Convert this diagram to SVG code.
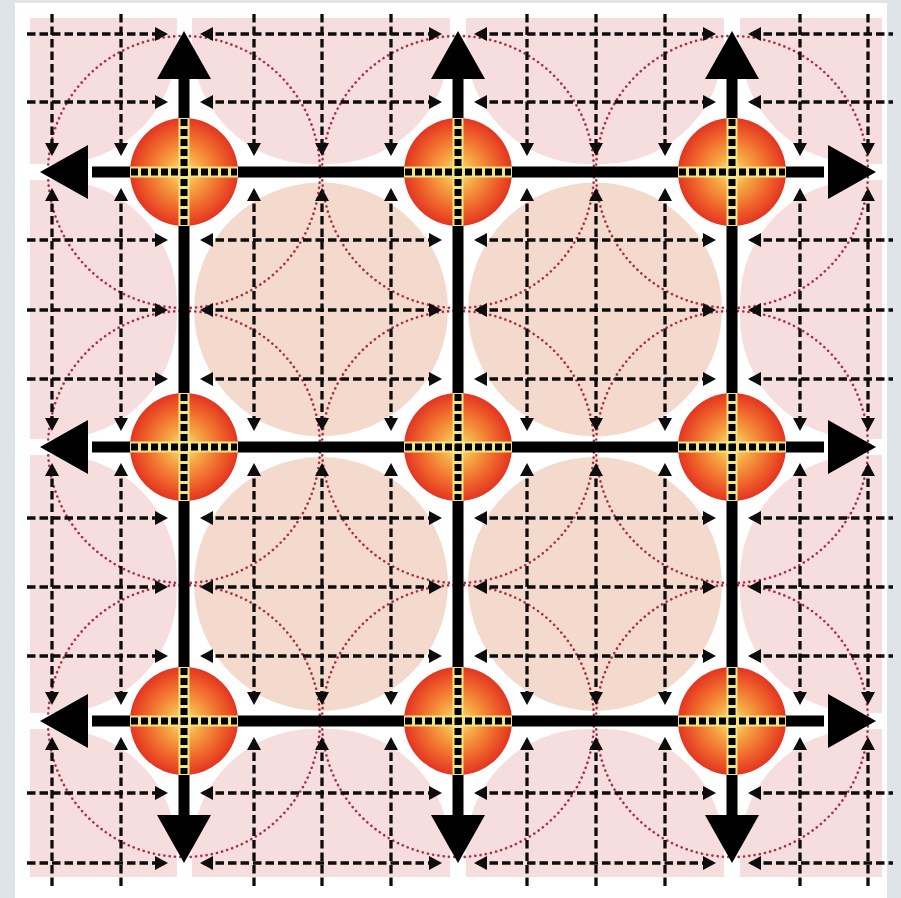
<svg xmlns="http://www.w3.org/2000/svg" width="901" height="898" viewBox="0 0 901 898">
<defs>
<style>
.outer{fill:#f6dedf}
.inner{fill:#f4dacd}
.dot{fill:none;stroke:#a8304a;stroke-width:2.6;stroke-dasharray:0.1 5.2;stroke-linecap:round}
.dash{fill:none;stroke:#0d0d0d;stroke-width:3.3;stroke-dasharray:8.5 4}
.main{fill:none;stroke:#000;stroke-width:11}
.head{fill:#000}
.ball{fill:url(#ballGrad)}
.ystrip{stroke:#f2e47e;stroke-width:11}
.bstrip{stroke:#000;stroke-width:7;stroke-dasharray:7 3}
</style>
<radialGradient id="ballGrad" cx="0.5" cy="0.5" r="0.5">
<stop offset="0" stop-color="#fbe58e"/>
<stop offset="0.3" stop-color="#f7aa46"/>
<stop offset="0.7" stop-color="#ef652b"/>
<stop offset="1" stop-color="#e33521"/>
</radialGradient>
<marker id="ah" viewBox="0 0 13 14" refX="10" refY="7" markerWidth="13" markerHeight="14" markerUnits="userSpaceOnUse" orient="auto-start-reverse">
<path d="M0,0 L13,7 L0,14 z" fill="#0d0d0d"/>
</marker>
<clipPath id="panelClip"><rect x="30" y="18" width="852" height="859"/></clipPath>
</defs>

<rect x="0" y="0" width="901" height="898" fill="#dee4e9"/>
<rect x="15" y="3" width="872" height="895" fill="#ffffff"/>

<g id="cells" clip-path="url(#panelClip)">
<rect class="outer" x="-200" y="-200" width="377" height="364" rx="122"/>
<rect class="outer" x="192" y="-200" width="258" height="364" rx="122"/>
<rect class="outer" x="466" y="-200" width="258" height="364" rx="122"/>
<rect class="outer" x="740" y="-200" width="360" height="364" rx="122"/>
<rect class="outer" x="-200" y="180" width="377" height="259" rx="122"/>
<rect class="outer" x="740" y="180" width="360" height="259" rx="122"/>
<rect class="outer" x="-200" y="455" width="377" height="258" rx="122"/>
<rect class="outer" x="740" y="455" width="360" height="258" rx="122"/>
<rect class="outer" x="-200" y="729" width="377" height="400" rx="122"/>
<rect class="outer" x="192" y="729" width="258" height="400" rx="122"/>
<rect class="outer" x="466" y="729" width="258" height="400" rx="122"/>
<rect class="outer" x="740" y="729" width="360" height="400" rx="122"/>
<circle class="inner" cx="321" cy="309.5" r="127"/>
<circle class="inner" cx="595" cy="309.5" r="127"/>
<circle class="inner" cx="321" cy="584" r="127"/>
<circle class="inner" cx="595" cy="584" r="127"/>
</g>

<g id="ranges">
<circle class="dot" cx="184" cy="172" r="136"/>
<circle class="dot" cx="458" cy="172" r="136"/>
<circle class="dot" cx="732" cy="172" r="136"/>
<circle class="dot" cx="184" cy="447" r="136"/>
<circle class="dot" cx="458" cy="447" r="136"/>
<circle class="dot" cx="732" cy="447" r="136"/>
<circle class="dot" cx="184" cy="721" r="136"/>
<circle class="dot" cx="458" cy="721" r="136"/>
<circle class="dot" cx="732" cy="721" r="136"/>
</g>

<g id="connectors">
<g id="grid-vertical">
<path class="dash" d="M52 14V153" marker-end="url(#ah)"/>
<path class="dash" d="M52 191V428" marker-start="url(#ah)" marker-end="url(#ah)"/>
<path class="dash" d="M52 466V702" marker-start="url(#ah)" marker-end="url(#ah)"/>
<path class="dash" d="M52 740V886" marker-start="url(#ah)"/>
<path class="dash" d="M121 14V153" marker-end="url(#ah)"/>
<path class="dash" d="M121 191V428" marker-start="url(#ah)" marker-end="url(#ah)"/>
<path class="dash" d="M121 466V702" marker-start="url(#ah)" marker-end="url(#ah)"/>
<path class="dash" d="M121 740V886" marker-start="url(#ah)"/>
<path class="dash" d="M254 14V153" marker-end="url(#ah)"/>
<path class="dash" d="M254 191V428" marker-start="url(#ah)" marker-end="url(#ah)"/>
<path class="dash" d="M254 466V702" marker-start="url(#ah)" marker-end="url(#ah)"/>
<path class="dash" d="M254 740V886" marker-start="url(#ah)"/>
<path class="dash" d="M322 14V153" marker-end="url(#ah)"/>
<path class="dash" d="M322 191V428" marker-start="url(#ah)" marker-end="url(#ah)"/>
<path class="dash" d="M322 466V702" marker-start="url(#ah)" marker-end="url(#ah)"/>
<path class="dash" d="M322 740V886" marker-start="url(#ah)"/>
<path class="dash" d="M391 14V153" marker-end="url(#ah)"/>
<path class="dash" d="M391 191V428" marker-start="url(#ah)" marker-end="url(#ah)"/>
<path class="dash" d="M391 466V702" marker-start="url(#ah)" marker-end="url(#ah)"/>
<path class="dash" d="M391 740V886" marker-start="url(#ah)"/>
<path class="dash" d="M527 14V153" marker-end="url(#ah)"/>
<path class="dash" d="M527 191V428" marker-start="url(#ah)" marker-end="url(#ah)"/>
<path class="dash" d="M527 466V702" marker-start="url(#ah)" marker-end="url(#ah)"/>
<path class="dash" d="M527 740V886" marker-start="url(#ah)"/>
<path class="dash" d="M596 14V153" marker-end="url(#ah)"/>
<path class="dash" d="M596 191V428" marker-start="url(#ah)" marker-end="url(#ah)"/>
<path class="dash" d="M596 466V702" marker-start="url(#ah)" marker-end="url(#ah)"/>
<path class="dash" d="M596 740V886" marker-start="url(#ah)"/>
<path class="dash" d="M665 14V153" marker-end="url(#ah)"/>
<path class="dash" d="M665 191V428" marker-start="url(#ah)" marker-end="url(#ah)"/>
<path class="dash" d="M665 466V702" marker-start="url(#ah)" marker-end="url(#ah)"/>
<path class="dash" d="M665 740V886" marker-start="url(#ah)"/>
<path class="dash" d="M800 14V153" marker-end="url(#ah)"/>
<path class="dash" d="M800 191V428" marker-start="url(#ah)" marker-end="url(#ah)"/>
<path class="dash" d="M800 466V702" marker-start="url(#ah)" marker-end="url(#ah)"/>
<path class="dash" d="M800 740V886" marker-start="url(#ah)"/>
<path class="dash" d="M868 14V153" marker-end="url(#ah)"/>
<path class="dash" d="M868 191V428" marker-start="url(#ah)" marker-end="url(#ah)"/>
<path class="dash" d="M868 466V702" marker-start="url(#ah)" marker-end="url(#ah)"/>
<path class="dash" d="M868 740V886" marker-start="url(#ah)"/>
</g>
<g id="grid-horizontal">
<path class="dash" d="M27 34H165" marker-end="url(#ah)"/>
<path class="dash" d="M203 34H439" marker-start="url(#ah)" marker-end="url(#ah)"/>
<path class="dash" d="M477 34H713" marker-start="url(#ah)" marker-end="url(#ah)"/>
<path class="dash" d="M751 34H893" marker-start="url(#ah)"/>
<path class="dash" d="M27 102H165" marker-end="url(#ah)"/>
<path class="dash" d="M203 102H439" marker-start="url(#ah)" marker-end="url(#ah)"/>
<path class="dash" d="M477 102H713" marker-start="url(#ah)" marker-end="url(#ah)"/>
<path class="dash" d="M751 102H893" marker-start="url(#ah)"/>
<path class="dash" d="M27 240H165" marker-end="url(#ah)"/>
<path class="dash" d="M203 240H439" marker-start="url(#ah)" marker-end="url(#ah)"/>
<path class="dash" d="M477 240H713" marker-start="url(#ah)" marker-end="url(#ah)"/>
<path class="dash" d="M751 240H893" marker-start="url(#ah)"/>
<path class="dash" d="M27 310H165" marker-end="url(#ah)"/>
<path class="dash" d="M203 310H439" marker-start="url(#ah)" marker-end="url(#ah)"/>
<path class="dash" d="M477 310H713" marker-start="url(#ah)" marker-end="url(#ah)"/>
<path class="dash" d="M751 310H893" marker-start="url(#ah)"/>
<path class="dash" d="M27 379H165" marker-end="url(#ah)"/>
<path class="dash" d="M203 379H439" marker-start="url(#ah)" marker-end="url(#ah)"/>
<path class="dash" d="M477 379H713" marker-start="url(#ah)" marker-end="url(#ah)"/>
<path class="dash" d="M751 379H893" marker-start="url(#ah)"/>
<path class="dash" d="M27 518H165" marker-end="url(#ah)"/>
<path class="dash" d="M203 518H439" marker-start="url(#ah)" marker-end="url(#ah)"/>
<path class="dash" d="M477 518H713" marker-start="url(#ah)" marker-end="url(#ah)"/>
<path class="dash" d="M751 518H893" marker-start="url(#ah)"/>
<path class="dash" d="M27 587H165" marker-end="url(#ah)"/>
<path class="dash" d="M203 587H439" marker-start="url(#ah)" marker-end="url(#ah)"/>
<path class="dash" d="M477 587H713" marker-start="url(#ah)" marker-end="url(#ah)"/>
<path class="dash" d="M751 587H893" marker-start="url(#ah)"/>
<path class="dash" d="M27 656H165" marker-end="url(#ah)"/>
<path class="dash" d="M203 656H439" marker-start="url(#ah)" marker-end="url(#ah)"/>
<path class="dash" d="M477 656H713" marker-start="url(#ah)" marker-end="url(#ah)"/>
<path class="dash" d="M751 656H893" marker-start="url(#ah)"/>
<path class="dash" d="M27 793H165" marker-end="url(#ah)"/>
<path class="dash" d="M203 793H439" marker-start="url(#ah)" marker-end="url(#ah)"/>
<path class="dash" d="M477 793H713" marker-start="url(#ah)" marker-end="url(#ah)"/>
<path class="dash" d="M751 793H893" marker-start="url(#ah)"/>
<path class="dash" d="M27 863H165" marker-end="url(#ah)"/>
<path class="dash" d="M203 863H439" marker-start="url(#ah)" marker-end="url(#ah)"/>
<path class="dash" d="M477 863H713" marker-start="url(#ah)" marker-end="url(#ah)"/>
<path class="dash" d="M751 863H893" marker-start="url(#ah)"/>
</g>
<g id="links">
<path class="main" d="M184 172H732"/>
<path class="main" d="M184 447H732"/>
<path class="main" d="M184 721H732"/>
<path class="main" d="M184 172V721"/>
<path class="main" d="M458 172V721"/>
<path class="main" d="M732 172V721"/>
</g>
<g id="out-arrows">
<path class="main" d="M184 172V75"/><polygon class="head" points="184,31 157,79 211,79"/>
<path class="main" d="M458 172V75"/><polygon class="head" points="458,31 431,79 485,79"/>
<path class="main" d="M732 172V75"/><polygon class="head" points="732,31 705,79 759,79"/>
<path class="main" d="M184 172H92"/><polygon class="head" points="40,172 88,145 88,199"/>
<path class="main" d="M184 447H92"/><polygon class="head" points="40,447 88,420 88,474"/>
<path class="main" d="M184 721H92"/><polygon class="head" points="40,721 88,694 88,748"/>
<path class="main" d="M732 172H824"/><polygon class="head" points="876,172 828,145 828,199"/>
<path class="main" d="M732 447H824"/><polygon class="head" points="876,447 828,420 828,474"/>
<path class="main" d="M732 721H824"/><polygon class="head" points="876,721 828,694 828,748"/>
<path class="main" d="M184 721V819"/><polygon class="head" points="184,863 157,815 211,815"/>
<path class="main" d="M458 721V819"/><polygon class="head" points="458,863 431,815 485,815"/>
<path class="main" d="M732 721V819"/><polygon class="head" points="732,863 705,815 759,815"/>
</g>
</g>

<g id="node-1-1"><circle class="ball" cx="184" cy="172" r="54"/><path class="ystrip" d="M130 172H238M184 118V226"/><path class="bstrip" d="M131 172H237M184 119V225"/></g>
<g id="node-1-2"><circle class="ball" cx="458" cy="172" r="54"/><path class="ystrip" d="M404 172H512M458 118V226"/><path class="bstrip" d="M405 172H511M458 119V225"/></g>
<g id="node-1-3"><circle class="ball" cx="732" cy="172" r="54"/><path class="ystrip" d="M678 172H786M732 118V226"/><path class="bstrip" d="M679 172H785M732 119V225"/></g>
<g id="node-2-1"><circle class="ball" cx="184" cy="447" r="54"/><path class="ystrip" d="M130 447H238M184 393V501"/><path class="bstrip" d="M131 447H237M184 394V500"/></g>
<g id="node-2-2"><circle class="ball" cx="458" cy="447" r="54"/><path class="ystrip" d="M404 447H512M458 393V501"/><path class="bstrip" d="M405 447H511M458 394V500"/></g>
<g id="node-2-3"><circle class="ball" cx="732" cy="447" r="54"/><path class="ystrip" d="M678 447H786M732 393V501"/><path class="bstrip" d="M679 447H785M732 394V500"/></g>
<g id="node-3-1"><circle class="ball" cx="184" cy="721" r="54"/><path class="ystrip" d="M130 721H238M184 667V775"/><path class="bstrip" d="M131 721H237M184 668V774"/></g>
<g id="node-3-2"><circle class="ball" cx="458" cy="721" r="54"/><path class="ystrip" d="M404 721H512M458 667V775"/><path class="bstrip" d="M405 721H511M458 668V774"/></g>
<g id="node-3-3"><circle class="ball" cx="732" cy="721" r="54"/><path class="ystrip" d="M678 721H786M732 667V775"/><path class="bstrip" d="M679 721H785M732 668V774"/></g>
</svg>
